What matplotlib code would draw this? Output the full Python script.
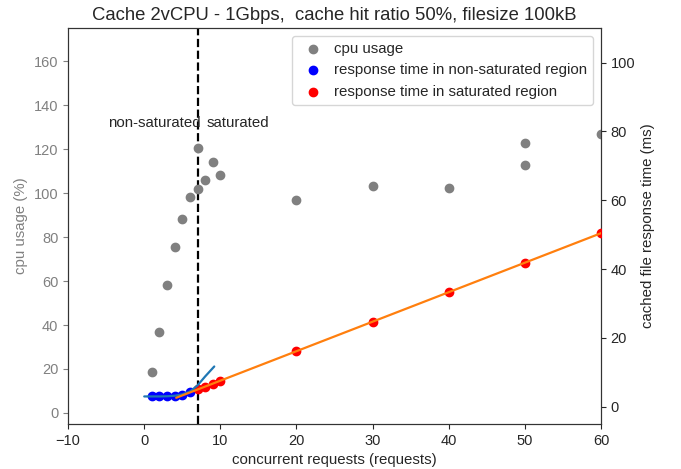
import numpy as np
import matplotlib
matplotlib.use('Agg')
import matplotlib.pyplot as plt
import seaborn as sns

sns.set_style('ticks')
plt.rcParams['font.family'] = ['Liberation Sans', 'DejaVu Sans']

# cpu usage per concurrency level
cpu_x = [1, 2, 3, 4, 5, 6, 7, 7, 8, 9, 10, 20, 30, 40, 50, 50, 60]
cpu_y = [18.6, 37, 58, 75.7, 88, 98.4, 102, 120.6, 106, 114, 108.3, 96.8, 103, 102.5, 122.8, 112.9, 127]

# response times (ms)
ns_x = [1, 2, 3, 4, 5, 6]
ns_y = [3.0, 3.0, 3.0, 3.1, 3.5, 4.4]
sat_x = [7, 8, 9, 10, 20, 30, 40, 50, 60]
sat_y = [5.2, 5.8, 6.7, 7.5, 16.2, 24.6, 33.3, 41.8, 50.5]

# fitted curve for the non-saturated region
fit_ns_x = [0, 1, 2, 3, 4, 5, 6, 7, 8, 9.2]
fit_ns_y = [3.0, 3.0, 3.0, 3.05, 3.2, 3.6, 4.4, 6.2, 8.8, 11.7]

sat_boundary = 7

fig = plt.figure(figsize=(6.81, 4.69), dpi=100)
ax = fig.add_axes([0.1, 0.096, 0.7825, 0.844])
ax2 = ax.twinx()

h1 = ax.scatter(cpu_x, cpu_y, s=36, color='grey', label='cpu usage', zorder=3)
ax.axvline(sat_boundary, color='black', linestyle='--', linewidth=1.6)
ax.text(7.4, 132, 'non-saturated', ha='right', va='center', fontsize=10.8)
ax.text(8.2, 132, 'saturated', ha='left', va='center', fontsize=10.8)

h2 = ax2.scatter(ns_x, ns_y, s=36, color='blue', label='response time in non-saturated region', zorder=3)
h3 = ax2.scatter(sat_x, sat_y, s=36, color='red', label='response time in saturated region', zorder=3)
ax2.plot(fit_ns_x, fit_ns_y, color='#1f77b4', linewidth=1.6, zorder=4)
coef = np.polyfit(sat_x, sat_y, 1)
xl = np.array([4.2, 62])
ax2.plot(xl, np.polyval(coef, xl), color='#ff7f0e', linewidth=1.6, zorder=4)

ax.set_xlim(-10, 60)
ax.set_ylim(-5, 175)
ax2.set_ylim(-5, 110)
ax.set_xticks([-10, 0, 10, 20, 30, 40, 50, 60])
ax.set_yticks(range(0, 161, 20))
ax2.set_yticks(range(0, 101, 20))

ax.set_xlabel('concurrent requests (requests)', fontsize=10.8)
ax.set_ylabel('cpu usage (%)', color='grey', fontsize=10.8)
ax.tick_params(axis='y', colors='grey', labelsize=10.5)
ax.tick_params(axis='x', labelsize=10.5)
ax2.set_ylabel('cached file response time (ms)', fontsize=10.8)
ax2.tick_params(axis='y', labelsize=10.5)
for a in (ax, ax2):
    for sp in a.spines.values():
        sp.set_color('#333333')

ax.set_title('Cache 2vCPU - 1Gbps,  cache hit ratio 50%, filesize 100kB', fontsize=13.3)
ax2.legend(handles=[h1, h2, h3], loc='upper right', fontsize=10.8, handletextpad=0.4)

fig.savefig('out.png', dpi=100)
